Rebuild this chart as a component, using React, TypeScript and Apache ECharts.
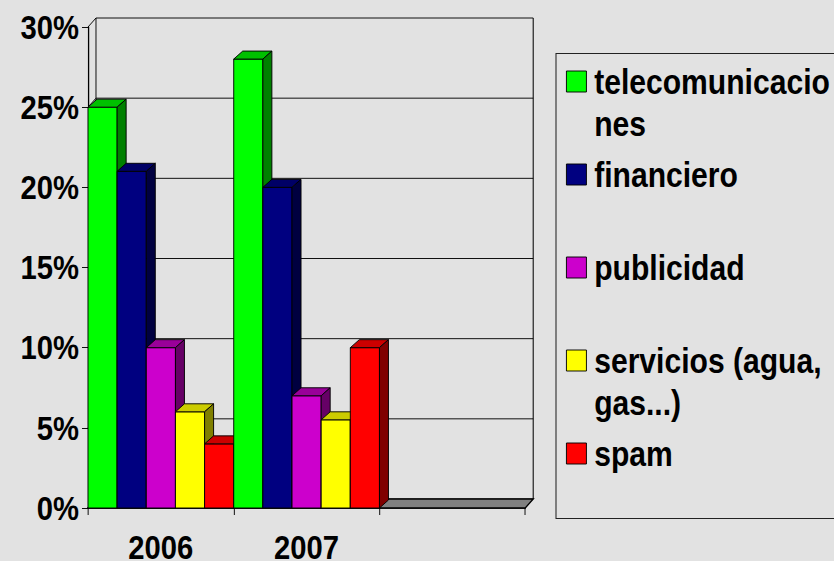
import React, { useEffect, useRef } from 'react';
import * as echarts from 'echarts';

const categories = ['2006', '2007', ''];
const seriesNames = ['telecomunicaciones', 'financiero', 'publicidad', 'servicios (agua, gas...)', 'spam'];
const legendLines = [['telecomunicacio', 'nes'], ['financiero'], ['publicidad'], ['servicios (agua,', 'gas...)'], ['spam']];
const telecom = [25, 28];
const financiero = [21, 20];
const publicidad = [10, 7];
const servicios = [6, 5.5];
const spam = [4, 10];
const yTicks = [0, 5, 10, 15, 20, 25, 30];

const frontColors = ['#00ff00', '#000080', '#cc00cc', '#ffff00', '#ff0000'];
const topColors = ['#00c000', '#000066', '#990099', '#cccc00', '#cc0000'];
const sideColors = ['#008000', '#000040', '#660066', '#808000', '#800000'];

const FONT = "'Liberation Sans', Arial, sans-serif";
// the reference is horizontally condensed; the chart is drawn wider and squeezed with scaleX
const K = 0.86;
const W = 834 / K;
const H = 561;
const BAR_DX = 9 / K;
const BAR_DY = -8;
const WALL_DX = 8 / K;
const WALL_DY = -9;

export default function App() {
  const ref = useRef<HTMLDivElement>(null);
  useEffect(() => {
    if (!ref.current) return;
    document.body.style.margin = '0';
    document.body.style.overflow = 'hidden';
    const chart = echarts.init(ref.current, null, { renderer: 'svg' });
    const allValues = [telecom, financiero, publicidad, servicios, spam];

    const barSeries = allValues.map((vals, s) => ({
      type: 'custom',
      name: seriesNames[s],
      z: 2,
      clip: false,
      itemStyle: { color: frontColors[s], borderColor: '#000', borderWidth: 1 },
      data: vals.map((v, i) => [i, v]),
      renderItem: (params: any, api: any) => {
        const cat = api.value(0);
        const val = api.value(1);
        const top = api.coord([cat, val]);
        const base = api.coord([cat, 0]);
        const bandW = api.size([1, 0])[0];
        const bw = bandW / 5;
        const x0 = top[0] - bandW / 2 + s * bw;
        const x1 = x0 + bw;
        const yT = top[1];
        const yB = base[1];
        const z2 = cat * 10 + s;
        const stroke = { stroke: '#000', lineWidth: 1 };
        return {
          type: 'group',
          children: [
            {
              type: 'polygon', z2,
              shape: { points: [[x0, yT], [x1, yT], [x1, yB], [x0, yB]] },
              style: { fill: frontColors[s], ...stroke },
            },
            {
              type: 'polygon', z2,
              shape: { points: [[x0, yT], [x1, yT], [x1 + BAR_DX, yT + BAR_DY], [x0 + BAR_DX, yT + BAR_DY]] },
              style: { fill: topColors[s], ...stroke },
            },
            {
              type: 'polygon', z2,
              shape: { points: [[x1, yT], [x1 + BAR_DX, yT + BAR_DY], [x1 + BAR_DX, yB + BAR_DY], [x1, yB]] },
              style: { fill: sideColors[s], ...stroke },
            },
          ],
        };
      },
    }));

    const wallSeries = {
      type: 'custom',
      name: 'wall',
      z: 1,
      clip: false,
      silent: true,
      data: [[0, 0]],
      renderItem: (params: any, api: any) => {
        const cs = params.coordSys;
        const xL = cs.x;
        const xR = cs.x + cs.width;
        const children: any[] = [];
        const yTop = api.coord([0, yTicks[yTicks.length - 1]])[1];
        const yBot = api.coord([0, 0])[1];
        yTicks.forEach((v) => {
          const y = api.coord([0, v])[1];
          children.push({
            type: 'line',
            shape: { x1: xL + WALL_DX, y1: y + WALL_DY, x2: xR + WALL_DX, y2: y + WALL_DY },
            style: { stroke: '#000', lineWidth: 1 },
          });
          children.push({
            type: 'line',
            shape: { x1: xL, y1: y, x2: xL + WALL_DX, y2: y + WALL_DY },
            style: { stroke: '#000', lineWidth: 1 },
          });
        });
        children.push({
          type: 'line',
          shape: { x1: xL + WALL_DX, y1: yTop + WALL_DY, x2: xL + WALL_DX, y2: yBot + WALL_DY },
          style: { stroke: '#000', lineWidth: 1 },
        });
        children.push({
          type: 'line',
          shape: { x1: xR + WALL_DX, y1: yTop + WALL_DY, x2: xR + WALL_DX, y2: yBot + WALL_DY },
          style: { stroke: '#000', lineWidth: 1.2 },
        });
        children.push({
          type: 'polygon',
          shape: { points: [[xL, yBot], [xR, yBot], [xR + WALL_DX, yBot + WALL_DY], [xL + WALL_DX, yBot + WALL_DY]] },
          style: { fill: '#808080', stroke: '#000', lineWidth: 1.5 },
        });
        return { type: 'group', children };
      },
    };

    const option: any = {
      animation: false,
      backgroundColor: '#e2e2e2',
      grid: { left: 88 / K, right: (834 - 525) / K, top: 27, bottom: 53, containLabel: false, outerBoundsMode: 'none' },
      xAxis: {
        type: 'category',
        data: categories,
        boundaryGap: true,
        axisLine: { show: true, lineStyle: { color: '#000', width: 1.5 } },
        axisTick: { show: true, length: 7, lineStyle: { color: '#000' } },
        axisLabel: { margin: 26, lineHeight: 26, color: '#000', fontFamily: FONT, fontWeight: 'bold', fontSize: 34 },
        splitLine: { show: false },
      },
      yAxis: {
        type: 'value',
        min: 0,
        max: 30,
        interval: 5,
        axisLine: { show: true, lineStyle: { color: '#000', width: 1.5 } },
        axisTick: { show: true, length: 6 / K, lineStyle: { color: '#000' } },
        axisLabel: { margin: 9 / K, color: '#000', fontFamily: FONT, fontWeight: 'bold', fontSize: 34, formatter: '{value}%' },
        splitLine: { show: false },
      },
      legend: {
        orient: 'vertical',
        left: 566 / K,
        top: 22,
        padding: 0,
        itemGap: -26,
        itemWidth: 20 / K,
        itemHeight: 21,
        icon: 'rect',
        selectedMode: false,
        itemStyle: { borderColor: '#000', borderWidth: 1 },
        data: seriesNames,
        formatter: (name: string) => {
          const i = seriesNames.indexOf(name);
          const lines = legendLines[i].map((l) => `{a|${l}}`);
          if (lines.length === 1) return `{s| }\n${lines[0]}\n{s| }`;
          return `{s| }\n${lines.join('\n')}`;
        },
        textStyle: {
          color: '#000',
          rich: {
            a: { color: '#000', fontFamily: FONT, fontWeight: 'bold', fontSize: 35, lineHeight: 42, padding: [0, 0, 0, 4] },
            s: { fontFamily: FONT, fontSize: 35, lineHeight: 42 },
          },
        },
      },
      graphic: [
        {
          type: 'rect',
          z: 0,
          shape: { x: 556 / K, y: 53.5, width: 400, height: 465 },
          style: { fill: 'none', stroke: '#222', lineWidth: 1.2 },
        },
      ],
      series: [wallSeries, ...barSeries],
    };
    chart.setOption(option);
    return () => chart.dispose();
  }, []);
  return (
    <div style={{ position: 'absolute', left: 0, top: 0, width: 834, height: H, overflow: 'hidden' }}>
      <div
        ref={ref}
        style={{ width: W, height: H, transform: `scaleX(${K})`, transformOrigin: '0 0' }}
      />
    </div>
  );
}
